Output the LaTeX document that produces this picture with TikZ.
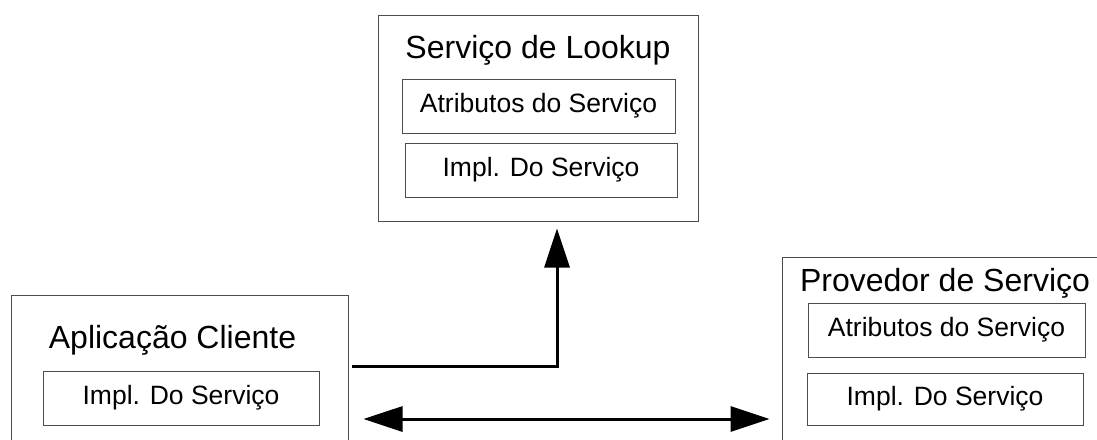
\documentclass[tikz,border=0pt]{standalone}
\usepackage{fontspec}
\setmainfont{Liberation Sans}
\usetikzlibrary{arrows.meta}
\begin{document}
\begin{tikzpicture}[x=1pt,y=-1pt,
  >={Triangle[length=39pt,width=25pt]},
  frame/.style={draw=black!70, line width=1pt, inner sep=0pt},
  heading/.style={inner sep=0pt, font=\fontsize{32}{38}\selectfont},
  part/.style={frame, font=\fontsize{26.5}{32}\selectfont},
  link/.style={line width=3pt, draw=black}]
\useasboundingbox (0,0) rectangle (1097,439);
\clip (0,0) rectangle (1097,439);

% Lookup service
\node[frame, minimum width=320pt, minimum height=206pt] (lookup) at (538,118) {};
\node[heading] (lookuptitle) at (538,50) {Serviço de Lookup};
\node[part, minimum width=273pt, minimum height=54pt] (lookupattr) at (538.5,106) {Atributos do Serviço};
\node[part, minimum width=272pt, minimum height=54pt] (lookupimpl) at (541,170) {Impl. Do Serviço};

% Client application
\node[frame, minimum width=337pt, minimum height=185pt] (client) at (179.5,387.5) {};
\node[heading] (clienttitle) at (172.5,340) {Aplicação Cliente};
\node[part, minimum width=276pt, minimum height=54pt] (clientimpl) at (181,398) {Impl. Do Serviço};

% Service provider
\node[frame, minimum width=338pt, minimum height=223pt] (prov) at (951,368.5) {};
\node[heading] (provtitle) at (945,283) {Provedor de Serviço};
\node[part, minimum width=277pt, minimum height=54pt] (provattr) at (946.5,330) {Atributos do Serviço};
\node[part, minimum width=276pt, minimum height=52pt] (provimpl) at (945,399) {Impl. Do Serviço};

% Connectors
\coordinate (bend) at (557,366);
\coordinate (mid) at (560,419);
\draw[link, ->, shorten <=3pt]
  (client.east |- bend) -- (bend) -- ([yshift=-7pt]lookup.south -| bend);
\draw[link, <->, shorten <=15pt, shorten >=12pt]
  (client.east |- mid) -- (prov.west |- mid);
\end{tikzpicture}
\end{document}
